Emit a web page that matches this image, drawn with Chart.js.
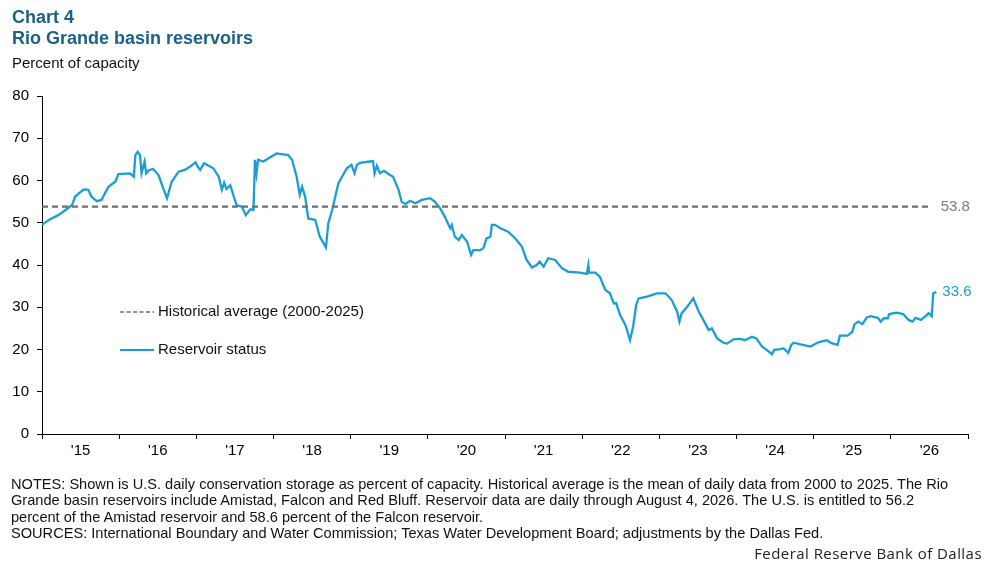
<!DOCTYPE html>
<html>
<head>
<meta charset="utf-8">
<script src="https://cdn.jsdelivr.net/npm/chart.js@4.4.1/dist/chart.umd.min.js"></script>
<style>
  body { margin: 0; background: #fff; font-family: "Liberation Sans", Arial, sans-serif; }
  #wrap { position: relative; width: 997px; height: 565px; overflow: hidden; }
  #reservoirCanvas { position: absolute; left: 0; top: 0; }
  .title { position: absolute; left: 12px; top: 7px; font-size: 18px; line-height: 21px; font-weight: bold; color: #1c6187; }
  .sub { position: absolute; left: 12px; top: 54px; font-size: 15px; line-height: 18px; color: #111; }
  .notes { position: absolute; left: 11px; top: 476px; font-size: 14.6px; line-height: 16.3px; color: #111; white-space: nowrap; }
  .credit { position: absolute; right: 15px; top: 543px; font-family: "Open Sans", sans-serif; font-size: 15px; letter-spacing: 0.45px; color: #222; }
</style>
</head>
<body>
<div id="wrap">
  <canvas id="reservoirCanvas" width="997" height="565"></canvas>
  <div class="title">Chart 4<br>Rio Grande basin reservoirs</div>
  <div class="sub">Percent of capacity</div>
  <div class="notes">NOTES: Shown is U.S. daily conservation storage as percent of capacity. Historical average is the mean of daily data from 2000 to 2025. The Rio<br>Grande basin reservoirs include Amistad, Falcon and Red Bluff. Reservoir data are daily through August 4, 2026. The U.S. is entitled to 56.2<br>percent of the Amistad reservoir and 58.6 percent of the Falcon reservoir.<br>SOURCES: International Boundary and Water Commission; Texas Water Development Board; adjustments by the Dallas Fed.</div>
  <div class="credit">Federal Reserve Bank of Dallas</div>
</div>
<script>
// year labels shown under the axis, one per year starting 2015
var yearLabels = ["'15", "'16", "'17", "'18", "'19", "'20", "'21", "'22", "'23", "'24", "'25", "'26"];

// dates as decimal years
var dates = [
  2015.00, 2015.10, 2015.21, 2015.32, 2015.39, 2015.43, 2015.54, 2015.60, 2015.64, 2015.71,
  2015.77, 2015.86, 2015.95, 2015.99, 2016.14, 2016.19, 2016.21, 2016.24, 2016.27, 2016.29,
  2016.33, 2016.35, 2016.39, 2016.44, 2016.51, 2016.57, 2016.62, 2016.68, 2016.77, 2016.85,
  2016.92, 2016.99, 2017.02, 2017.05, 2017.10, 2017.22, 2017.29, 2017.33, 2017.36, 2017.39,
  2017.44, 2017.52, 2017.59, 2017.64, 2017.70, 2017.74, 2017.76, 2017.78, 2017.80, 2017.87,
  2017.93, 2018.04, 2018.19, 2018.24, 2018.30, 2018.34, 2018.37, 2018.41, 2018.45, 2018.54,
  2018.60, 2018.68, 2018.71, 2018.76, 2018.84, 2018.95, 2019.01, 2019.05, 2019.08, 2019.12,
  2019.25, 2019.29, 2019.31, 2019.34, 2019.38, 2019.43, 2019.51, 2019.55, 2019.62, 2019.66,
  2019.71, 2019.77, 2019.84, 2019.92, 2020.03, 2020.09, 2020.16, 2020.22, 2020.29, 2020.31,
  2020.35, 2020.40, 2020.44, 2020.51, 2020.56, 2020.59, 2020.68, 2020.72, 2020.76, 2020.81,
  2020.83, 2020.87, 2020.94, 2021.04, 2021.11, 2021.15, 2021.22, 2021.28, 2021.35, 2021.41,
  2021.45, 2021.50, 2021.56, 2021.65, 2021.74, 2021.82, 2021.97, 2022.06, 2022.08, 2022.09,
  2022.17, 2022.23, 2022.30, 2022.36, 2022.41, 2022.44, 2022.49, 2022.56, 2022.62, 2022.66,
  2022.70, 2022.73, 2022.84, 2022.97, 2023.08, 2023.16, 2023.23, 2023.26, 2023.29, 2023.36,
  2023.44, 2023.51, 2023.57, 2023.64, 2023.68, 2023.75, 2023.83, 2023.88, 2023.96, 2024.05,
  2024.11, 2024.20, 2024.26, 2024.33, 2024.39, 2024.46, 2024.49, 2024.57, 2024.61, 2024.67,
  2024.71, 2024.74, 2024.83, 2024.96, 2025.06, 2025.17, 2025.23, 2025.31, 2025.34, 2025.44,
  2025.50, 2025.53, 2025.58, 2025.63, 2025.69, 2025.74, 2025.83, 2025.87, 2025.91, 2025.96,
  2025.98, 2026.07, 2026.16, 2026.23, 2026.28, 2026.32, 2026.39, 2026.45, 2026.49, 2026.53,
  2026.55, 2026.59
];

// reservoir status, percent of capacity
var storage = [
  49.5, 50.8, 51.8, 53.2, 54.2, 56.2, 57.9, 57.8, 56.2, 55.1,
  55.4, 58.5, 59.7, 61.5, 61.7, 60.9, 66.0, 66.8, 66.0, 61.7,
  64.5, 61.7, 62.5, 62.7, 61.3, 58.2, 55.8, 59.7, 62.1, 62.5,
  63.3, 64.3, 63.2, 62.5, 64.1, 62.9, 60.9, 57.8, 59.5, 58.0,
  58.9, 54.2, 53.8, 51.8, 53.2, 53.0, 64.9, 61.7, 64.9, 64.5,
  65.2, 66.4, 66.0, 64.9, 60.9, 56.6, 58.5, 56.2, 51.0, 50.7,
  46.7, 44.2, 49.9, 53.0, 59.3, 62.9, 63.7, 61.7, 63.7, 64.2,
  64.5, 64.6, 61.7, 63.5, 61.7, 62.3, 61.3, 60.9, 57.8, 55.0,
  54.4, 55.2, 54.6, 55.4, 55.8, 55.0, 53.4, 51.4, 48.7, 49.5,
  46.7, 45.9, 47.1, 45.5, 42.4, 43.5, 43.5, 44.0, 46.3, 46.7,
  49.5, 49.5, 48.7, 47.9, 46.7, 45.9, 44.3, 41.2, 39.4, 40.0,
  40.8, 39.6, 41.6, 41.2, 39.2, 38.4, 38.2, 37.9, 40.0, 38.2,
  38.2, 37.2, 34.1, 33.3, 30.9, 31.0, 28.2, 25.8, 22.2, 25.4,
  30.5, 32.1, 32.5, 33.3, 33.3, 31.7, 29.0, 26.6, 28.6, 30.1,
  32.1, 29.0, 27.0, 24.6, 25.0, 22.6, 21.6, 21.4, 22.4, 22.5,
  22.2, 23.0, 22.6, 20.7, 19.9, 18.9, 19.9, 20.1, 20.3, 19.2,
  21.1, 21.6, 21.2, 20.7, 21.7, 22.2, 21.5, 21.1, 23.3, 23.3,
  24.2, 26.0, 26.6, 26.0, 27.6, 27.9, 27.5, 26.6, 27.4, 27.4,
  28.4, 28.7, 28.4, 27.0, 26.6, 27.5, 27.0, 27.9, 28.6, 27.9,
  33.3, 33.6
];

var historicalAverage = 53.8;
var averageSpan = [2015.0, 2026.49];

var fontFamily = '"Liberation Sans", Arial, sans-serif';

var overlayPlugin = {
  id: "overlay",
  afterDatasetsDraw: function (chart) {
    var ctx = chart.ctx;
    var x = chart.scales.x;
    var y = chart.scales.y;
    var sets = chart.data.datasets;
    ctx.save();
    ctx.font = "15px " + fontFamily;
    ctx.textBaseline = "middle";
    ctx.textAlign = "left";

    // value labels at the line ends
    ctx.fillStyle = "#7a7a7a";
    ctx.fillText(historicalAverage.toFixed(1), x.getPixelForValue(averageSpan[1]) + 12, y.getPixelForValue(historicalAverage));
    var last = storage.length - 1;
    ctx.fillStyle = sets[1].borderColor;
    ctx.fillText(storage[last].toFixed(1), x.getPixelForValue(dates[last]) + 6, y.getPixelForValue(storage[last]));

    // legend inside the plot
    sets.forEach(function (ds, i) {
      var ly = 312 + i * 38;
      ctx.beginPath();
      ctx.strokeStyle = ds.borderColor;
      ctx.lineWidth = i === 0 ? 1.5 : 2;
      ctx.setLineDash(i === 0 ? [4, 2.5] : []);
      ctx.moveTo(120, ly);
      ctx.lineTo(154, ly);
      ctx.stroke();
      ctx.setLineDash([]);
      ctx.fillStyle = "#111";
      ctx.fillText(ds.label, 158, ly);
    });
    ctx.restore();
  }
};

document.addEventListener("DOMContentLoaded", function () {
  var ctx = document.getElementById("reservoirCanvas").getContext("2d");

  new Chart(ctx, {
    type: "line",
    data: {
      datasets: [
        {
          label: "Historical average (2000-2025)",
          data: averageSpan.map(function (t) { return { x: t, y: historicalAverage }; }),
          borderColor: "#6e6e6e",
          borderWidth: 2.2,
          borderDash: [6, 4],
          pointRadius: 0
        },
        {
          label: "Reservoir status",
          data: dates.map(function (t, i) { return { x: t, y: storage[i] }; }),
          borderColor: "#1b9dd6",
          borderWidth: 2.3,
          pointRadius: 0,
          tension: 0
        }
      ]
    },
    options: {
      responsive: false,
      animation: false,
      layout: { padding: { top: 96, right: 29, left: 0, bottom: 0 } },
      plugins: { legend: { display: false }, tooltip: { enabled: false } },
      scales: {
        x: {
          type: "linear",
          min: 2015,
          max: 2015 + yearLabels.length,
          afterBuildTicks: function (scale) {
            var t = [];
            for (var i = 0; i <= yearLabels.length; i++) {
              t.push({ value: 2015 + i });
              if (i < yearLabels.length) t.push({ value: 2015 + i + 0.5 });
            }
            scale.ticks = t;
          },
          afterFit: function (scale) { scale.height = 131; },
          ticks: {
            autoSkip: false,
            maxRotation: 0,
            padding: 3,
            color: "#000",
            font: { family: fontFamily, size: 15 },
            callback: function (value) {
              if (value % 1 === 0.5) return yearLabels[Math.floor(value) - 2015];
              return "";
            }
          },
          grid: {
            drawOnChartArea: false,
            tickLength: 5,
            color: function (c) {
              return c.tick && c.tick.value % 1 !== 0 ? "rgba(0,0,0,0)" : "#000";
            }
          },
          border: { color: "#000", width: 1 }
        },
        y: {
          min: 0,
          max: 80,
          afterFit: function (scale) { scale.width = 42; },
          ticks: { stepSize: 10, padding: 8, color: "#000", font: { family: fontFamily, size: 15 } },
          grid: { drawOnChartArea: false, tickLength: 5, color: "#000" },
          border: { color: "#000", width: 1 }
        }
      }
    },
    plugins: [overlayPlugin]
  });
});
</script>
</body>
</html>
